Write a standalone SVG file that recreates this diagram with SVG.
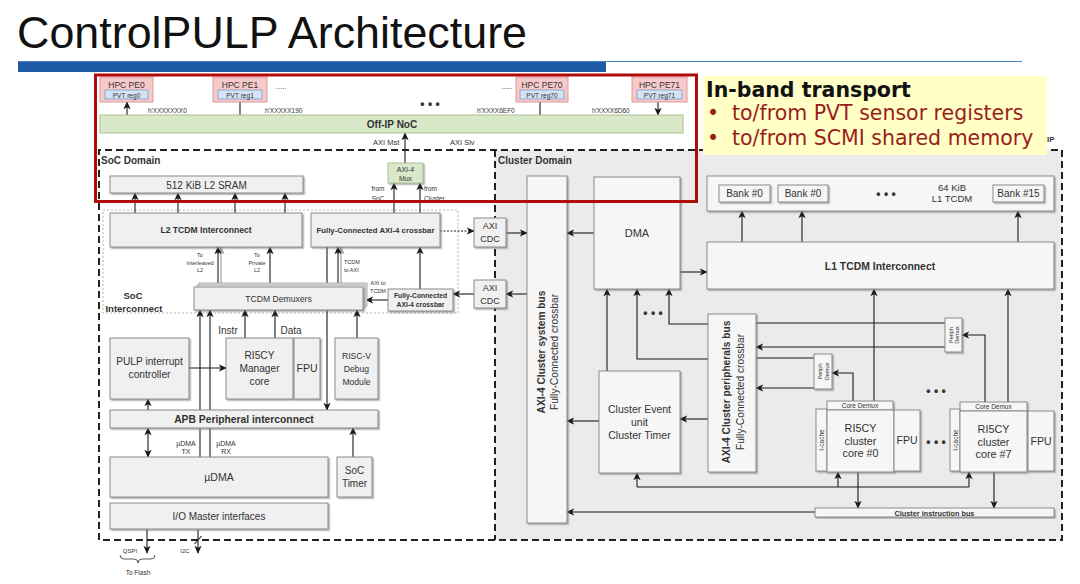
<svg xmlns="http://www.w3.org/2000/svg" width="1080" height="584" viewBox="0 0 1080 584">
<defs>
<style>
.t{font-family:"Liberation Sans",Arial,sans-serif;fill:#333;text-anchor:middle}
.b{font-weight:bold}
.s{text-anchor:start}
.rot{dominant-baseline:central}
.box{fill:#f0f0f0;stroke:#8a8a8a;stroke-width:1;filter:url(#sh)}
.cbox{fill:#f6f6f6;stroke:#8a8a8a;stroke-width:1;filter:url(#sh)}
.ln{fill:none;stroke:#1a1a1a;stroke-width:1.1}
.gl{fill:none;stroke:#999;stroke-width:1.1}
.ar{marker-end:url(#ah)}
.gar{marker-end:url(#gh)}
.da{marker-start:url(#ah);marker-end:url(#ah)}
.dash{fill:none;stroke:#222;stroke-width:2;stroke-dasharray:7 4}
.pe{fill:#f7c9c9;stroke:#d99a9a;stroke-width:1}
.pvt{fill:#d3e3f5;stroke:#7f9cc6;stroke-width:0.8}
.gr{fill:#d8e8c9;stroke:#a7c096;stroke-width:1}
.yt{font-family:"DejaVu Sans",Verdana,sans-serif;font-size:20.5px}
</style>
<marker id="ah" viewBox="0 0 10 10" refX="9" refY="5" markerWidth="8" markerHeight="8" markerUnits="userSpaceOnUse" orient="auto-start-reverse"><path d="M0,0.5 L10,5 L0,9.5 L2.5,5 z" fill="#1a1a1a"/></marker>
<marker id="gh" viewBox="0 0 10 10" refX="9" refY="5" markerWidth="8" markerHeight="8" markerUnits="userSpaceOnUse" orient="auto"><path d="M0,0.5 L10,5 L0,9.5 L2.5,5 z" fill="#999"/></marker>
<filter id="sh" x="-10%" y="-10%" width="130%" height="130%"><feDropShadow dx="1.5" dy="1.5" stdDeviation="0.6" flood-color="#777" flood-opacity="0.55"/></filter>
</defs>
<rect width="1080" height="584" fill="#ffffff"/>

<g id="title">
<text x="17" y="48" font-family="Liberation Sans,Arial,sans-serif" font-size="44" fill="#111" textLength="510" lengthAdjust="spacingAndGlyphs">ControlPULP Architecture</text>
<rect x="18" y="61" width="588" height="11" fill="#1f5aa6"/>
<line x1="18" y1="61.5" x2="1022" y2="61.5" stroke="#4a7fc4" stroke-width="1"/>
</g>

<g id="domains">
<rect x="495" y="150" width="567" height="390" fill="#ebebeb"/>
<path class="dash" d="M99,540 V150 H1062 V540 H99 M495,150 V540"/>
<rect x="103" y="210" width="355" height="103" fill="none" stroke="#b5b5b5" stroke-width="1" stroke-dasharray="2 2"/>
<text class="t b s" x="101" y="164" font-size="10">SoC Domain</text>
<text class="t b s" x="498" y="164" font-size="10">Cluster Domain</text>
<text class="t b" x="133" y="299" font-size="9.5">SoC</text>
<text class="t b" x="134" y="312" font-size="9.5">Interconnect</text>
</g>

<g id="connectors">
<path class="ln da" d="M127,102 V115 M240,102 V115 M540,102 V115 M658,102 V115"/>
<path class="ln ar" d="M405,163 V133"/>
<path class="ln ar" d="M394,213 V183"/>
<path class="ln ar" d="M420,213 V183"/>
<path class="ln ar" d="M135,213 V193"/>
<path class="ln ar" d="M178,213 V193"/>
<path class="ln ar" d="M235,213 V193"/>
<path class="ln ar" d="M285,213 V193"/>
<path class="ln ar" d="M440,231 H474" stroke-dasharray="2 1.5"/>
<path class="ln ar" d="M420,289 V247"/>
<path class="gl gar" d="M221,285 V247"/>
<path class="ln ar" d="M218,287 V247"/>
<path class="ln ar" d="M270,287 V247"/>
<path class="gl gar" d="M341,285 V247"/>
<path class="ln ar" d="M338,287 V247"/>
<path class="ln ar" d="M327,247 V410"/>
<path class="ln ar" d="M388,300 H366"/>
<path class="ln ar" d="M474,294 H453"/>
<path class="ln ar" d="M200,457 V310"/>
<path class="ln ar" d="M210,457 V310"/>
<path class="ln ar" d="M245,338 V310"/>
<path class="ln ar" d="M275,338 V310"/>
<path class="ln ar" d="M357,338 V310"/>
<path class="ln ar" d="M189,368 H226"/>
<path class="ln ar" d="M148,410 V399"/>
<path class="ln da" d="M148,428 V457"/>
<path class="ln ar" d="M353,457 V428"/>
<path class="ln ar" d="M147,529 V553"/>
<path class="ln ar" d="M198,529 V553"/>
<path class="ln" d="M194.5,544 L201.5,536"/>
<path d="M120,555 Q120,559 124,559 H134 Q138,559 138,563 Q138,559 142,559 H151 Q155,559 155,555" fill="none" stroke="#333" stroke-width="0.8"/>

<path class="ln ar" d="M506,233 H527"/>
<path class="ln ar" d="M527,294 H506"/>
<path class="ln ar" d="M594,233 H567"/>
<path class="ln ar" d="M680,272 H707"/>
<path class="ln ar" d="M742,242 V211"/>
<path class="ln ar" d="M802,242 V211"/>
<path class="ln ar" d="M1018,242 V211"/>
<path class="ln ar" d="M607,371 V289"/>
<path class="ln ar" d="M708,359 H637 V289"/>
<path class="ln ar" d="M708,324 H669 V289"/>
<path class="ln" d="M756,323 H945"/>
<path class="ln" d="M756,358 H814"/>
<path class="ln ar" d="M945,347 H756"/>
<path class="ln ar" d="M814,388 H756"/>
<path class="ln ar" d="M708,419 H680"/>
<path class="ln ar" d="M599,421 H567"/>
<path class="ln ar" d="M853,401 V373 H832"/>
<path class="ln ar" d="M874,401 V289"/>
<path class="ln ar" d="M985,402 V335 H962"/>
<path class="ln ar" d="M1008,402 V289"/>
<path class="ln" d="M637,487 H969"/>
<path class="ln ar" d="M637,487 V473"/>
<path class="ln ar" d="M838,487 V472"/>
<path class="ln ar" d="M969,487 V472"/>
<path class="ln ar" d="M815,512 H567"/>
<path class="ln ar" d="M858,472 V508"/>
<path class="ln ar" d="M994,472 V508"/>
</g>

<g id="connector-labels">
<text class="t s" x="148" y="113" font-size="6.5">h'XXXXXXX0</text>
<text class="t s" x="265" y="113" font-size="6.5">h'XXXXX190</text>
<text class="t s" x="477" y="113" font-size="6.5">h'XXXX6EF0</text>
<text class="t s" x="592" y="113" font-size="6.5">h'XXXX6D60</text>
<text class="t" x="281" y="89" font-size="8">.....</text>
<text class="t" x="507" y="89" font-size="8">.....</text>
<text class="t b" x="430" y="108" font-size="12">• • •</text>
<text class="t s" x="373" y="145" font-size="7.5">AXI Mst</text>
<text class="t s" x="450" y="145" font-size="7.5">AXI Slv</text>
<text class="t" x="378" y="191" font-size="6.5">from</text>
<text class="t" x="378" y="201" font-size="6.5">SoC</text>
<text class="t s" x="424" y="191" font-size="6.5">from</text>
<text class="t s" x="424" y="201" font-size="6.5">Cluster</text>
<text class="t" x="200" y="257" font-size="5.5">To</text>
<text class="t" x="200" y="264.5" font-size="5.5">Interleaved</text>
<text class="t" x="200" y="272" font-size="5.5">L2</text>
<text class="t" x="257" y="257" font-size="5.5">To</text>
<text class="t" x="257" y="264.5" font-size="5.5">Private</text>
<text class="t" x="257" y="272" font-size="5.5">L2</text>
<text class="t s" x="344" y="264" font-size="5.5">TCDM</text>
<text class="t s" x="344" y="272" font-size="5.5">to AXI</text>
<text class="t" x="378" y="285" font-size="5.5">AXI to</text>
<text class="t" x="378" y="293" font-size="5.5">TCDM</text>
<text class="t b" x="229" y="285" font-size="8">...</text>
<text class="t b" x="282" y="285" font-size="8">...</text>
<text class="t b" x="351" y="285" font-size="8">...</text>
<text class="t" x="228" y="334" font-size="10">Instr</text>
<text class="t" x="291" y="334" font-size="10">Data</text>
<text class="t" x="186" y="446" font-size="7">µDMA</text>
<text class="t" x="186" y="454" font-size="7">TX</text>
<text class="t" x="226" y="446" font-size="7">µDMA</text>
<text class="t" x="226" y="454" font-size="7">RX</text>
<text class="t" x="130" y="553" font-size="6">QSPI</text>
<text class="t" x="185" y="553" font-size="6">I2C</text>
<text class="t" x="138" y="575" font-size="6.5">To Flash</text>
<text class="t b" x="653" y="317" font-size="12">• • •</text>
<text class="t b" x="936" y="395" font-size="12">• • •</text>
<text class="t b" x="936" y="446" font-size="12">• • •</text>
</g>

<g id="hpc-pe0"><rect class="pe" x="100" y="77" width="53" height="25"/><text class="t" x="126.5" y="88" font-size="8.5">HPC PE0</text><rect class="pvt" x="105" y="90" width="43" height="9"/><text class="t" x="126.5" y="97.5" font-size="6.6" fill="#335">PVT reg0</text></g>
<g id="hpc-pe1"><rect class="pe" x="213" y="77" width="54" height="25"/><text class="t" x="240" y="88" font-size="8.5">HPC PE1</text><rect class="pvt" x="218" y="90" width="44" height="9"/><text class="t" x="240" y="97.5" font-size="6.6">PVT reg1</text></g>
<g id="hpc-pe70"><rect class="pe" x="516" y="77" width="52" height="25"/><text class="t" x="542" y="88" font-size="8.5">HPC PE70</text><rect class="pvt" x="520" y="90" width="44" height="9"/><text class="t" x="542" y="97.5" font-size="6.6">PVT reg70</text></g>
<g id="hpc-pe71"><rect class="pe" x="632" y="77" width="55" height="25"/><text class="t" x="659.5" y="88" font-size="8.5">HPC PE71</text><rect class="pvt" x="637" y="90" width="45" height="9"/><text class="t" x="659.5" y="97.5" font-size="6.6">PVT reg71</text></g>
<g id="noc"><rect class="gr" x="100" y="115" width="583" height="18"/><text class="t b" x="392" y="128" font-size="10">Off-IP NoC</text></g>
<g id="axi-mux"><rect class="gr" x="388" y="163" width="35" height="20" filter="url(#sh)"/><text class="t" x="405.5" y="172" font-size="7">AXI-4</text><text class="t" x="405.5" y="180.5" font-size="7">Mux</text></g>

<g id="l2-sram"><rect class="box" x="110" y="176" width="193" height="17"/><text class="t" x="206.5" y="188.5" font-size="10">512 KiB L2 SRAM</text></g>
<g id="l2-tcdm"><rect class="box" x="110" y="213" width="192" height="34"/><text class="t b" x="206" y="233" font-size="8.6">L2 TCDM Interconnect</text></g>
<g id="axi-xbar"><rect class="box" x="311" y="213" width="129" height="34"/><text class="t b" x="375.5" y="233" font-size="7.8">Fully-Connected AXI-4 crossbar</text></g>
<g id="axi-cdc1"><rect class="box" x="474" y="218" width="32" height="29"/><text class="t" x="490" y="229" font-size="9">AXI</text><text class="t" x="490" y="242" font-size="9">CDC</text></g>
<g id="axi-cdc2"><rect class="box" x="474" y="280" width="32" height="28"/><text class="t" x="490" y="291" font-size="9">AXI</text><text class="t" x="490" y="304" font-size="9">CDC</text></g>
<g id="tcdm-demux"><rect x="199" y="283" width="168" height="23" fill="#e8e8e8" stroke="#999" stroke-width="0.8"/><rect x="197" y="285" width="168" height="23" fill="#ececec" stroke="#999" stroke-width="0.8"/><rect class="box" x="194" y="287" width="169" height="23"/><text class="t" x="278.5" y="302" font-size="8.6">TCDM Demuxers</text></g>
<g id="axi-xbar2"><rect class="box" x="388" y="289" width="65" height="22"/><text class="t b" x="420.5" y="298" font-size="6.8">Fully-Connected</text><text class="t b" x="420.5" y="307" font-size="6.8">AXI-4 crossbar</text></g>
<g id="pulp-irq"><rect class="box" x="110" y="338" width="79" height="61"/><text class="t" x="149.5" y="365" font-size="10.2">PULP interrupt</text><text class="t" x="149.5" y="378" font-size="10.2">controller</text></g>
<g id="ri5cy-mgr"><rect class="box" x="226" y="338" width="67" height="61"/><text class="t" x="259.5" y="359" font-size="10.2">RI5CY</text><text class="t" x="259.5" y="372" font-size="10.2">Manager</text><text class="t" x="259.5" y="385" font-size="10.2">core</text></g>
<g id="fpu-mgr"><rect class="box" x="294" y="338" width="26" height="61"/><text class="t" x="307" y="372" font-size="10.5">FPU</text></g>
<g id="riscv-debug"><rect class="box" x="335" y="338" width="43" height="61"/><text class="t" x="356.5" y="359" font-size="8.6">RISC-V</text><text class="t" x="356.5" y="372" font-size="8.6">Debug</text><text class="t" x="356.5" y="385" font-size="8.6">Module</text></g>
<g id="apb"><rect class="box" x="110" y="410" width="268" height="18"/><text class="t b" x="244" y="423" font-size="10.3">APB Peripheral interconnect</text></g>
<g id="udma"><rect class="box" x="110" y="457" width="218" height="40"/><text class="t" x="219" y="481" font-size="10.5">µDMA</text></g>
<g id="soc-timer"><rect class="box" x="337" y="457" width="35" height="40"/><text class="t" x="354.5" y="474" font-size="10">SoC</text><text class="t" x="354.5" y="487" font-size="10">Timer</text></g>
<g id="io-master"><rect class="box" x="110" y="503" width="218" height="26"/><text class="t" x="219" y="520" font-size="10">I/O Master interfaces</text></g>

<g id="sys-bus"><rect class="cbox" x="527" y="176" width="40" height="347"/><text class="t b rot" font-size="10.2" transform="translate(541,352) rotate(-90)">AXI-4 Cluster system bus</text><text class="t rot" font-size="10.2" transform="translate(554.5,352) rotate(-90)">Fully-Connected crossbar</text></g>
<g id="dma"><rect class="cbox" x="594" y="177" width="86" height="112"/><text class="t" x="637" y="237" font-size="11">DMA</text></g>
<g id="l1-tcdm"><rect class="cbox" x="707" y="176" width="347" height="35"/>
<rect class="cbox" x="719" y="185" width="51" height="17"/><text class="t" x="744.5" y="197" font-size="10">Bank #0</text>
<rect class="cbox" x="778" y="185" width="50" height="17"/><text class="t" x="803" y="197" font-size="10">Bank #0</text>
<text class="t b" x="886" y="198" font-size="12">• • •</text>
<text class="t" x="952" y="191" font-size="9.5">64 KiB</text><text class="t" x="952" y="202" font-size="9.5">L1 TCDM</text>
<rect class="cbox" x="993" y="185" width="51" height="17"/><text class="t" x="1018.5" y="197" font-size="10">Bank #15</text></g>
<g id="l1-interconnect"><rect class="cbox" x="707" y="242" width="347" height="47"/><text class="t b" x="880" y="270" font-size="10.4">L1 TCDM Interconnect</text></g>
<g id="periph-bus"><rect class="cbox" x="708" y="314" width="48" height="158"/><text class="t b rot" font-size="10.2" transform="translate(726,392) rotate(-90)">AXI-4 Cluster peripherals bus</text><text class="t rot" font-size="10.2" transform="translate(740,392) rotate(-90)">Fully-Connected crossbar</text></g>
<g id="event-unit"><rect class="cbox" x="599" y="371" width="81" height="102"/><text class="t" x="639.5" y="413" font-size="10.5">Cluster Event</text><text class="t" x="639.5" y="426" font-size="10.5">unit</text><text class="t" x="639.5" y="439" font-size="10.5">Cluster Timer</text></g>
<g id="periph-demux0"><rect class="cbox" x="814" y="354" width="18" height="35"/><text class="t rot" font-size="5.5" transform="translate(820,371.5) rotate(-90)">Periph</text><text class="t rot" font-size="5.5" transform="translate(826.5,371.5) rotate(-90)">Demux</text></g>
<g id="periph-demux7"><rect class="cbox" x="945" y="318" width="17" height="34"/><text class="t rot" font-size="5.5" transform="translate(950.5,335) rotate(-90)">Periph</text><text class="t rot" font-size="5.5" transform="translate(957,335) rotate(-90)">Demux</text></g>
<g id="core0">
<rect class="cbox" x="827" y="401" width="66" height="9"/><text class="t" x="860" y="408.3" font-size="6.5">Core Demux</text>
<rect class="cbox" x="816" y="409" width="11" height="62"/><text class="t rot" font-size="6.5" transform="translate(821.5,440) rotate(-90)">I-cache</text>
<rect class="cbox" x="827" y="410" width="67" height="62"/><text class="t" x="860.5" y="432" font-size="10.8">RI5CY</text><text class="t" x="860.5" y="444.5" font-size="10.8">cluster</text><text class="t" x="860.5" y="457" font-size="10.8">core #0</text>
<rect class="cbox" x="894" y="410" width="26" height="61"/><text class="t" x="907" y="444" font-size="10.5">FPU</text>
</g>
<g id="core7">
<rect class="cbox" x="960" y="402" width="67" height="9"/><text class="t" x="993.5" y="409.3" font-size="6.5">Core Demux</text>
<rect class="cbox" x="950" y="409" width="10" height="62"/><text class="t rot" font-size="6.5" transform="translate(955,440) rotate(-90)">I-cache</text>
<rect class="cbox" x="960" y="411" width="67" height="61"/><text class="t" x="993.5" y="433" font-size="10.8">RI5CY</text><text class="t" x="993.5" y="445.5" font-size="10.8">cluster</text><text class="t" x="993.5" y="458" font-size="10.8">core #7</text>
<rect class="cbox" x="1028" y="411" width="26" height="60"/><text class="t" x="1041" y="445" font-size="10.5">FPU</text>
</g>
<g id="instr-bus"><rect class="cbox" x="815" y="508" width="239" height="9"/><text class="t b" x="934.5" y="515.5" font-size="7.3">Cluster instruction bus</text></g>

<g id="highlight">
<rect x="95.5" y="75" width="601" height="126.5" fill="none" stroke="#b00b0b" stroke-width="3"/>
</g>
<g id="callout">
<rect x="703" y="76" width="344" height="79" fill="#ffffc6"/>
<text class="yt" x="706" y="97" font-weight="bold" fill="#111">In-band transport</text>
<text class="yt" x="707" y="120" fill="#9b1c1c">•</text>
<text class="yt" x="732" y="120" fill="#9b1c1c">to/from PVT sensor registers</text>
<text class="yt" x="707" y="145" fill="#9b1c1c">•</text>
<text class="yt" x="732" y="145" fill="#9b1c1c">to/from SCMI shared memory</text>
<text class="t b s" x="1047" y="142" font-size="8">IP</text>
</g>
</svg>
